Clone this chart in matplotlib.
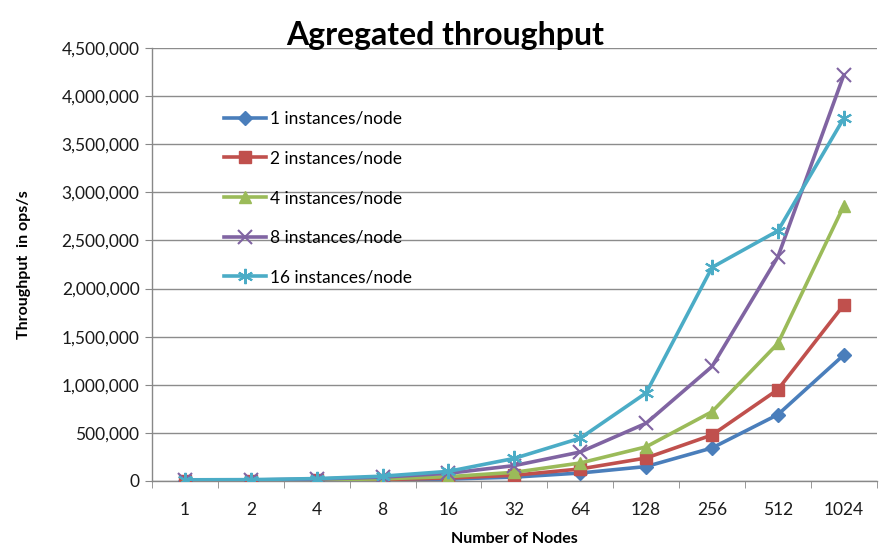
import matplotlib
matplotlib.use("Agg")
import matplotlib.pyplot as plt
from matplotlib.ticker import FuncFormatter, FixedLocator
import numpy as np

plt.rcParams['font.family'] = ['Lato', 'DejaVu Sans']

# data
nodes = ['1', '2', '4', '8', '16', '32', '64', '128', '256', '512', '1024']
inst1 = [1500, 3000, 5000, 10000, 20000, 40000, 83000, 150000, 343000, 690000, 1310000]
inst2 = [2000, 4000, 8000, 15000, 30000, 60000, 125000, 239000, 478000, 950000, 1830000]
inst4 = [3000, 6000, 11000, 22000, 45000, 90000, 187000, 355000, 720000, 1430000, 2860000]
inst8 = [5000, 10000, 20000, 40000, 80000, 160000, 301000, 600000, 1190000, 2330000, 4220000]
inst16 = [12000, 14000, 25000, 50000, 100000, 235000, 445000, 915000, 2220000, 2600000, 3770000]

labels = ['1 instances/node', '2 instances/node', '4 instances/node',
          '8 instances/node', '16 instances/node']
colors = ['#4A7EBB', '#C0504D', '#9BBB59', '#8064A2', '#4BACC6']
markers = ['D', 's', '^', 'x', (6, 2, 0)]
msizes = [7, 9, 9, 10, 11]

fig = plt.figure(figsize=(8.91, 5.48), dpi=100)
ax = fig.add_axes([0.1706, 0.1223, 0.8134, 0.7901])

x = np.arange(len(nodes))
for ys, lab, c, m, ms in zip([inst1, inst2, inst4, inst8, inst16], labels, colors, markers, msizes):
    ax.plot(x, ys, color=c, lw=2.6, marker=m, markersize=ms,
            markeredgewidth=1.5 if m in ('x',) or isinstance(m, tuple) else 1,
            markeredgecolor=c, label=lab, zorder=3)

ax.set_xlim(-0.5, len(nodes) - 0.5)
ax.set_ylim(0, 4500000)
ax.set_yticks(np.arange(0, 4500001, 500000))
ax.yaxis.set_major_formatter(FuncFormatter(lambda v, p: '{:,.0f}'.format(v)))
ax.set_xticks(x)
ax.set_xticklabels(nodes)
ax.xaxis.set_minor_locator(FixedLocator(np.arange(-0.5, len(nodes), 1)))
ax.tick_params(axis='x', which='major', length=0, pad=15, labelsize=12.5, colors='#1a1a1a')
ax.tick_params(axis='x', which='minor', length=5, color='#888888')
ax.tick_params(axis='y', length=5, color='#888888', labelsize=12.5, labelcolor='#1a1a1a', pad=4)

ax.grid(axis='y', color='#8c8c8c', lw=1)
ax.set_axisbelow(True)
for s in ['top', 'right']:
    ax.spines[s].set_visible(False)
for s in ['left', 'bottom']:
    ax.spines[s].set_color('#888888')
    ax.spines[s].set_linewidth(1)

ax.set_title('Agregated throughput', fontsize=23, fontweight='bold', x=0.405, y=1.0, pad=2)
ax.set_ylabel('Throughput  in ops/s', fontsize=11.5, fontweight='bold', labelpad=22)
ax.set_xlabel('Number of Nodes', fontsize=11.5, fontweight='bold', labelpad=10)

leg = ax.legend(loc='upper left', bbox_to_anchor=(0.1, 0.855), frameon=False,
                fontsize=12.5, handlelength=2.4, labelspacing=1.36, handletextpad=0.2,
                borderaxespad=0, borderpad=0)

fig.savefig('out.png', dpi=100)
